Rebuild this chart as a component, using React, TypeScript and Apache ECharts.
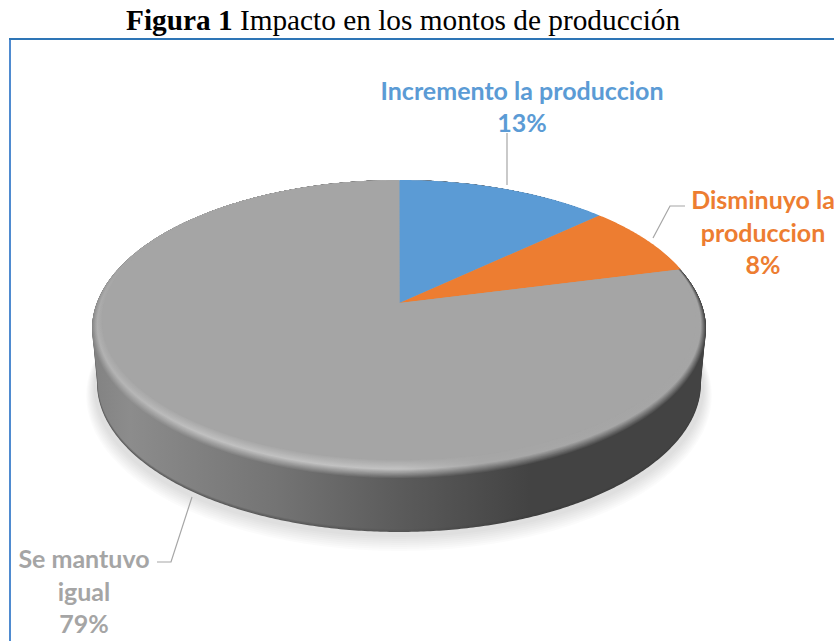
import React, { useEffect, useRef } from "react";
import * as echarts from "echarts";

const titleBold = "Figura 1";
const titleText = "Impacto en los montos de producción";
const categories = ["Incremento la produccion", "Disminuyo la\nproduccion", "Se mantuvo\nigual"];
const values = [13, 8, 79];
const sliceColors = ["#5B9BD5", "#ED7D31", "#A5A5A5"];

// Layout only (no data)
const labelPos = [[522, 106], [763, 231.5], [84, 590.5]];
const leaderPts = [
  [[507, 133], [507, 185]],
  [[653, 238], [670, 206], [685, 206]],
  [[192, 497], [171, 562], [157, 562]],
];
const sideStops = [[92, 0x82], [130, 0x8c], [280, 0x73], [400, 0x5b], [480, 0x4c], [530, 0x43], [710, 0x43]];
const hiStops = [[92, 0xb0], [200, 0xc0], [400, 0xc2], [480, 0xa8], [710, 0xa5]];
const FACE = 0xa5;
const X0 = 88, X1 = 712;

type P = { cx: number; y0: number; a: number; b: number; k: number };
const mk = (top: number, bottom: number, apex: number, halfW: number, cx = 399): P => {
  const up = apex - top, dn = bottom - apex;
  const k = (dn - up) / (dn + up);
  return { cx, y0: apex, a: halfW * Math.sqrt(1 - k * k), b: up * (1 + k), k };
};
const proj = (p: P, th: number) => {
  const u = Math.sin(th), v = -Math.cos(th), w = 1 - p.k * v;
  return [p.cx + (p.a * u) / w, p.y0 + (p.b * v) / w];
};
const ring = (p: P, from = 0, to = Math.PI * 2, n = 360) => {
  const pts: number[][] = [];
  for (let i = 0; i <= n; i++) pts.push(proj(p, from + ((to - from) * i) / n));
  return pts;
};
const hex = (g: number) => {
  const c = Math.max(0, Math.min(255, Math.round(g)));
  return `rgb(${c},${c},${c})`;
};
const sampleStops = (stops: number[][], x: number) => {
  for (let i = 1; i < stops.length; i++) {
    if (x <= stops[i][0]) {
      const f = (x - stops[i - 1][0]) / (stops[i][0] - stops[i - 1][0]);
      return stops[i - 1][1] + (stops[i][1] - stops[i - 1][1]) * Math.max(0, f);
    }
  }
  return stops[stops.length - 1][1];
};
const xs = [92, 130, 200, 280, 400, 480, 530, 710];
const grad = (fn: (x: number) => number) =>
  new echarts.graphic.LinearGradient(
    X0, 0, X1, 0,
    xs.map((x) => ({ offset: (x - X0) / (X1 - X0), color: hex(fn(x)) })),
    true
  );

// Hull of a top-plane outline and the lower half of a bottom-plane outline
const silhouette = (top: P, bot: P) => {
  const t = ring(top, 0, Math.PI * 2, 720);
  const b = ring(bot, 0, Math.PI * 2, 720);
  const idx = (a: number[][], right: boolean) => {
    let best = 0;
    a.forEach((q, i) => { if (right ? q[0] > a[best][0] : q[0] < a[best][0]) best = i; });
    return best;
  };
  const tR = idx(t, true), tL = idx(t, false), bR = idx(b, true), bL = idx(b, false);
  const pts: number[][] = [];
  for (let i = bR; i <= bL; i++) pts.push(b[i]);
  for (let i = tL; i <= 720; i++) pts.push(t[i]);
  for (let i = 0; i <= tR; i++) pts.push(t[i]);
  return pts;
};

const outer = { top: 180, bottom: 479, hw: 307 };
const inner = { top: 181, bottom: 460, hw: 297 };
const APEX = 303;
const faceP = mk(inner.top, inner.bottom, APEX, inner.hw);
const colorFaceP = mk(180, 466, APEX, 303.5, 399.5);
const sliceGeom = [colorFaceP, colorFaceP, faceP];
const topP = mk(outer.top, outer.bottom, APEX, outer.hw);
const botP = mk(234, 532, 358, 302);

const total = values.reduce((a, b) => a + b, 0);

const renderBody = () => {
  const children: any[] = [];
  // soft ground shadow
  for (let i = 0; i < 8; i++) {
    const g = 16 - i * 2;
    const p = mk(240, 535 + g, 362, 304 + g * 0.55);
    children.push({ type: "polygon", shape: { points: ring(p) }, style: { fill: "rgba(0,0,0,0.016)" }, silent: true });
  }
  // side wall: dark rim then lit wall
  children.push({
    type: "polygon",
    shape: { points: silhouette(topP, botP) },
    style: { fill: grad((x) => Math.min(sampleStops(sideStops, x), 0x60) - 6) },
  });
  for (let i = 1; i <= 3; i++) {
    const bp = mk(234, 532 - i, 358, 302 - i * 0.3);
    const f = i / 3;
    children.push({
      type: "polygon",
      shape: { points: silhouette(topP, bp) },
      style: { fill: grad((x) => {
        const s = sampleStops(sideStops, x);
        const d = Math.min(s, 0x60) - 6;
        return d + (s - d) * f;
      }) },
    });
  }
  // bevel: blended outlines from wall colour to the face colour
  const N = 18;
  for (let i = 0; i <= N; i++) {
    const t = i / N;
    const p = mk(
      outer.top + (inner.top - outer.top) * t,
      outer.bottom + (inner.bottom - outer.bottom) * t,
      APEX,
      outer.hw + (inner.hw - outer.hw) * t
    );
    children.push({
      type: "polygon",
      shape: { points: ring(p) },
      style: { fill: grad((x) => {
        const s = sampleStops(sideStops, x);
        const h = sampleStops(hiStops, x);
        return t < 0.5 ? s + (h - s) * (t / 0.5) : h + (FACE - h) * ((t - 0.5) / 0.5);
      }) },
    });
  }
  // upper-left rim fades into the face colour, no dark edge there
  children.push({
    type: "polygon",
    shape: { points: ring(topP, Math.PI, Math.PI * 2, 360) },
    style: {
      fill: new echarts.graphic.LinearGradient(0, 265, 0, 335, [
        { offset: 0, color: "rgba(165,165,165,1)" },
        { offset: 1, color: "rgba(165,165,165,0)" },
      ], true),
    },
  });
  return { type: "group", children };
};

const renderSlice = (params: any, api: any) => {
  const i = params.dataIndex;
  const before = values.slice(0, i).reduce((a, b) => a + b, 0);
  const val = api.value(0);
  const a0 = (before / total) * Math.PI * 2;
  const a1 = ((before + val) / total) * Math.PI * 2;
  const geom = sliceGeom[i];
  const pts = [[399.5, APEX], ...ring(geom, a0, a1, Math.max(4, Math.round((a1 - a0) * 120)))];
  return {
    type: "polygon",
    shape: { points: pts },
    style: { fill: sliceColors[i] },
  };
};

const renderLabel = (params: any, api: any) => {
  const i = params.dataIndex;
  const children: any[] = [
    {
      type: "polyline",
      shape: { points: leaderPts[i] },
      style: { fill: "none", stroke: "#A6A6A6", lineWidth: 1.2 },
    },
    {
      type: "text",
      x: labelPos[i][0],
      y: labelPos[i][1],
      style: {
        text: `${categories[i]}\n${api.value(0)}%`,
        fill: sliceColors[i],
        fontFamily: "Lato",
        fontWeight: "bold",
        fontSize: 25,
        lineHeight: 32.5,
        align: "center",
        verticalAlign: "middle",
      },
    },
  ];
  return { type: "group", children };
};

export default function App() {
  const ref = useRef<HTMLDivElement>(null);
  useEffect(() => {
    const chart = echarts.init(ref.current!, null, { renderer: "svg" });
    chart.setOption({
      animation: false,
      backgroundColor: "#ffffff",
      title: {
        left: 121,
        top: 0,
        text: `{b|${titleBold}} {n|${titleText}}`,
        textStyle: {
          fontWeight: "normal",
          fontFamily: "Liberation Serif",
          fontSize: 29.3,
          rich: {
            b: { fontFamily: "Liberation Serif", fontWeight: "bold", fontSize: 29.3, color: "#000" },
            n: { fontFamily: "Liberation Serif", fontWeight: "normal", fontSize: 29.3, color: "#000" },
          },
        },
      },
      graphic: [
        { type: "line", shape: { x1: 10, y1: 38, x2: 10, y2: 641 }, style: { stroke: "#4F8BD0", lineWidth: 2 } },
        { type: "line", shape: { x1: 9, y1: 39, x2: 834, y2: 39 }, style: { stroke: "#2E75B6", lineWidth: 2 } },
      ],
      series: [
        { type: "custom", coordinateSystem: "none", z: 1, renderItem: renderBody, data: [total], silent: true },
        { type: "custom", coordinateSystem: "none", z: 2, renderItem: renderSlice, data: values, silent: true },
        { type: "custom", coordinateSystem: "none", z: 3, renderItem: renderLabel, data: values, silent: true },
      ],
    });
    return () => chart.dispose();
  }, []);
  return <div ref={ref} style={{ position: "fixed", left: 0, top: 0, width: 834, height: 641 }} />;
}
